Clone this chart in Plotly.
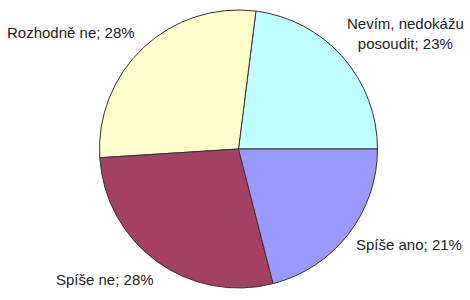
import plotly.graph_objects as go

labels = ["Nevím, nedokážu posoudit", "Rozhodně ne", "Spíše ne", "Spíše ano"]
values = [23, 28, 28, 21]
label_text = ["Nevím, nedokážu<br>posoudit; 23%", "Rozhodně ne; 28%", "Spíše ne; 28%", "Spíše ano; 21%"]
colors = ["#BFFFFF", "#FFFFCC", "#A34064", "#9999FF"]

W, H = 470, 300
cx, cy, r = 238.5, 149, 139

# first slice must start at 3 o'clock and run counterclockwise
rot = 90 - 360 * values[0] / sum(values)

fig = go.Figure(go.Pie(
    labels=labels, values=values, sort=False,
    direction="counterclockwise", rotation=rot,
    marker=dict(colors=colors, line=dict(color="#333333", width=1)),
    textinfo="none", hoverinfo="skip", showlegend=False,
    domain=dict(x=[(cx - r) / W, (cx + r) / W], y=[(H - cy - r) / H, (H - cy + r) / H]),
))

# label positions (pixels): (x, y, xanchor)
pos = [(405.5, 33.5, "center"), (5, 33, "left"), (104.5, 279, "center"), (408.5, 244, "center")]
for t, (x, y, xa) in zip(label_text, pos):
    fig.add_annotation(text=t, x=x / W, y=1 - y / H, xref="paper", yref="paper",
                       xanchor=xa, yanchor="middle", showarrow=False,
                       font=dict(family="Liberation Sans, Arial", size=15, color="#222222"))

fig.update_layout(width=W, height=H, margin=dict(l=0, r=0, t=0, b=0),
                  paper_bgcolor="white", plot_bgcolor="white")
fig.write_html("out.html")
